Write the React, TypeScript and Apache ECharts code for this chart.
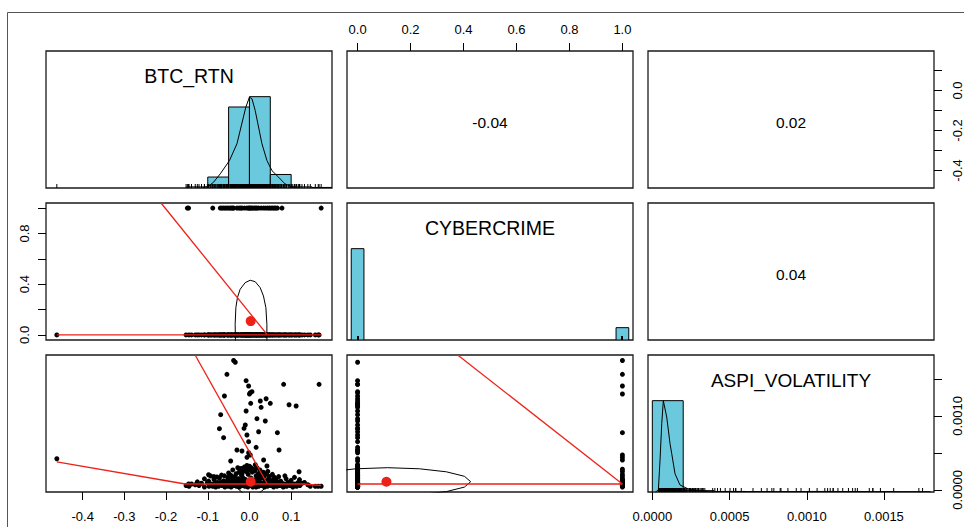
import React, { useEffect, useRef } from "react";
import * as echarts from "echarts";

// ---------- labels ----------
const varNames = ["BTC_RTN", "CYBERCRIME", "ASPI_VOLATILITY"];
const corrLabels = ["-0.04", "0.02", "0.04"]; // panels (1,2), (1,3), (2,3)

// ---------- axis ranges & ticks ----------
const btcRange = [-0.488, 0.198];
const cyberRange = [-0.04, 1.04];
const aspiRange = [-0.000028, 0.001824];
const histRange = [0, 1.5];

const btcTicks = [-0.4, -0.3, -0.2, -0.1, 0.0, 0.1];
const btcBottomLabels = [-0.4, -0.3, -0.2, -0.1, 0.0, 0.1];
const btcRightLabels = [-0.4, -0.2, 0.0];
const cyberTicks = [0, 0.2, 0.4, 0.6, 0.8, 1.0];
const cyberTopLabels = [0, 0.2, 0.4, 0.6, 0.8, 1.0];
const cyberLeftLabels = [0, 0.4, 0.8];
const aspiTicks = [0, 0.0005, 0.001, 0.0015];
const aspiBottomLabels = [0, 0.0005, 0.001, 0.0015];
const aspiRightLabels = [0, 0.001];

// ---------- histograms: [from, to, relative height] ----------
const btcHist = [
  [-0.15, -0.1, 0.012],
  [-0.1, -0.05, 0.12],
  [-0.05, 0, 0.887],
  [0, 0.05, 1.0],
  [0.05, 0.1, 0.148],
  [0.1, 0.15, 0.012],
  [0.15, 0.2, 0.006],
];
const cyberHist = [
  [-0.024, 0.024, 1.0],
  [0.976, 1.024, 0.135],
];
const aspiHist = [
  [0, 0.0002, 1.0],
  [0.0002, 0.0004, 0.015],
  [0.0004, 0.0006, 0.006],
  [0.0006, 0.0008, 0.004],
  [0.0008, 0.001, 0.004],
  [0.001, 0.0012, 0.006],
  [0.0012, 0.0014, 0.005],
  [0.0014, 0.0016, 0.003],
  [0.0016, 0.0018, 0.002],
];

// ---------- density curves (scaled to max 1) ----------
const btcDensity = [
  [-0.112, 0.004], [-0.099, 0.016], [-0.086, 0.064], [-0.07, 0.155], [-0.048, 0.3],
  [-0.03, 0.484], [-0.0087, 0.885], [0.0, 0.995], [0.006, 0.977], [0.0137, 0.85],
  [0.03, 0.484], [0.042, 0.3], [0.054, 0.19], [0.07, 0.118], [0.085, 0.046],
  [0.1, 0.016], [0.115, 0.004],
];
const aspiDensity = [
  [0.00002, 0.0], [0.000039, 0.02], [0.00005, 0.35], [0.000061, 0.75], [0.0000712, 1.0],
  [0.0000933, 0.82], [0.0001146, 0.53], [0.0001256, 0.42], [0.000147, 0.2], [0.000179, 0.077],
  [0.000233, 0.033], [0.0003, 0.01], [0.0004, 0.0],
];

// ---------- observations [BTC_RTN, ASPI_VOLATILITY] ----------
const cyber0Upper = [
  [-0.034, 0.001726], [0.167, 0.001428], [0.082, 0.001428], [-0.008, 0.001477], [0.006, 0.001328],
  [0.002, 0.001314], [-0.06, 0.00127], [0.026, 0.001202], [0.04, 0.001233], [0.05, 0.001171],
  [0.003, 0.001171], [0.028, 0.001117], [0.095, 0.001152], [0.112, 0.001135], [-0.008, 0.001067],
  [-0.069, 0.001017], [0.018, 0.000963], [0.038, 0.000932], [-0.01, 0.000878], [-0.072, 0.000828],
  [0.022, 0.000787], [-0.013, 0.000833], [-0.006, 0.000743], [-0.062, 0.000706], [-0.002, 0.000652],
  [0.016, 0.000576], [0.071, 0.00054], [-0.03, 0.00054], [-0.018, 0.000526], [-0.002, 0.000503],
  [-0.045, 0.000391], [-0.006, 0.00033], [0.014, 0.00034], [0.0, 0.00032], [0.042, 0.000324],
  [-0.093, 0.000188], [0.119, 0.000246], [-0.462, 0.000422],
];
const cyber0Dome = [
  [-0.078, 0.000175], [-0.06, 0.00019], [-0.045, 0.0002], [-0.032, 0.00022], [-0.025, 0.00024],
  [-0.016, 0.00026], [-0.009, 0.00025], [0.0, 0.00027], [0.007, 0.00024], [0.013, 0.00026],
  [0.021, 0.00022], [0.029, 0.00021], [0.036, 0.00019], [0.048, 0.00018], [0.06, 0.00017],
  [-0.098, 0.000205],
];
const cyber0Dome2 = [
  [-0.05, 0.00023], [-0.04, 0.00027], [-0.028, 0.0003], [-0.02, 0.00029], [-0.012, 0.00031],
  [-0.004, 0.00029], [0.004, 0.0003], [0.01, 0.00028], [0.018, 0.0003], [0.025, 0.00027],
  [0.033, 0.00024], [0.041, 0.00022], [-0.067, 0.0002], [0.055, 0.00021], [0.07, 0.00018],
  [0.085, 0.00019], [-0.085, 0.00018], [0.108, 0.00017], [-0.108, 0.00015], [0.12, 0.00014],
  [-0.125, 0.00011], [0.132, 0.0001], [0.14, 0.00007], [-0.13, 0.00007], [-0.036, 0.00018],
  [-0.019, 0.0002], [-0.003, 0.00021], [0.016, 0.00019], [0.032, 0.00017], [-0.052, 0.00017],
];
const cyber0Low = [
  [-0.152, 0.00006], [-0.145, 0.00005], [-0.121, 0.00006], [-0.108, 0.00004], [-0.097, 0.00005],
  [-0.089, 0.00006], [-0.081, 0.00004], [-0.074, 0.00005], [-0.066, 0.00006], [-0.059, 0.00004],
  [-0.051, 0.00005], [-0.044, 0.00004], [-0.037, 0.00006], [-0.031, 0.00005], [-0.024, 0.00004],
  [-0.017, 0.00006], [-0.011, 0.00005], [-0.004, 0.00004], [0.003, 0.00006], [0.009, 0.00005],
  [0.016, 0.00004], [0.022, 0.00005], [0.029, 0.00006], [0.036, 0.00004], [0.043, 0.00005],
  [0.051, 0.00006], [0.058, 0.00004], [0.066, 0.00005], [0.073, 0.00006], [0.081, 0.00004],
  [0.089, 0.00005], [0.097, 0.00006], [0.104, 0.00004], [0.113, 0.00005], [0.121, 0.00006],
  [0.146, 0.00005], [0.158, 0.00005], [0.165, 0.00005],
];
const cyber0Mid = [
  [-0.139, 0.00008], [-0.115, 0.00009], [-0.101, 0.0001], [-0.092, 0.00008], [-0.083, 0.00009],
  [-0.077, 0.0001], [-0.069, 0.00009], [-0.061, 0.00008], [-0.055, 0.0001], [-0.047, 0.00009],
  [-0.041, 0.00008], [-0.034, 0.0001], [-0.027, 0.00009], [-0.02, 0.00008], [-0.014, 0.0001],
  [-0.008, 0.00009], [-0.001, 0.00008], [0.006, 0.0001], [0.012, 0.00009], [0.019, 0.00008],
  [0.025, 0.0001], [0.032, 0.00009], [0.039, 0.00008], [0.047, 0.0001], [0.054, 0.00009],
  [0.062, 0.00008], [0.069, 0.0001], [0.077, 0.00009], [0.085, 0.00008], [0.093, 0.0001],
  [0.101, 0.00009], [0.109, 0.00008], [0.117, 0.0001], [0.126, 0.00009],
];
const cyber0High = [
  [-0.098, 0.00012], [-0.085, 0.00014], [-0.072, 0.00016], [-0.063, 0.00012], [-0.052, 0.00014],
  [-0.043, 0.00016], [-0.035, 0.00013], [-0.028, 0.00015], [-0.021, 0.00012], [-0.015, 0.00016],
  [-0.009, 0.00014], [-0.003, 0.00013], [0.004, 0.00016], [0.011, 0.00012], [0.017, 0.00015],
  [0.024, 0.00014], [0.031, 0.00016], [0.038, 0.00012], [0.046, 0.00015], [0.055, 0.00013],
  [0.064, 0.00014], [0.075, 0.00012], [0.088, 0.00015], [0.1, 0.00013],
];
const cyber1Upper = [
  [-0.038, 0.00175], [-0.054, 0.001563], [-0.002, 0.001405], [0.0, 0.001297],
  [0.067, 0.000774], [0.002, 0.000472], [-0.006, 0.000441], [0.034, 0.000405],
];
const cyber1Low = [
  [-0.149, 0.00006], [-0.146, 0.00008], [-0.088, 0.00005], [-0.07, 0.0001], [-0.062, 0.00012],
  [-0.046, 0.00007], [-0.04, 0.00009], [-0.025, 0.00015], [-0.018, 0.00021], [-0.012, 0.00028],
  [0.008, 0.00004], [0.015, 0.00011], [0.022, 0.00018], [0.044, 0.00025], [0.052, 0.00006],
  [0.06, 0.00013], [0.078, 0.00009], [0.172, 0.00005], [-0.066, 0.00008], [-0.058, 0.00011],
  [-0.05, 0.00006], [-0.043, 0.00012], [-0.03, 0.00007], [-0.021, 0.00009], [0.005, 0.00014],
  [0.012, 0.00007], [0.018, 0.00009], [0.028, 0.00006], [0.039, 0.00011], [0.048, 0.00007],
  [0.056, 0.00009], [0.063, 0.00012],
];

// ---------- smoothers, means, ellipses ----------
const btcCyberSmoothA = [[-0.462, 0.0], [0.172, 0.0]];
const btcCyberSmoothB = [[-0.212, 1.04], [0.042, 0.005]];
const btcAspiSmoothA = [[-0.462, 0.00038], [-0.154, 0.00008], [0.13, 0.00008], [0.172, 0.00006]];
const btcAspiSmoothB = [[-0.1303, 0.001824], [0.042, 0.00009]];
const cyberAspiSmoothA = [[0, 0.00008], [1, 0.00008]];
const cyberAspiSmoothB = [[0.378, 0.001824], [1, 0.00008]];

const btcMean = 0.003;
const cyberMean = 0.109;
const aspiMean = 0.00011;

const btcCyberEllipse = [
  [-0.0331, -0.087], [-0.0336, -0.034], [-0.0343, 0.084], [-0.0326, 0.215], [-0.0288, 0.294],
  [-0.0223, 0.36], [-0.0103, 0.412], [0.0017, 0.431], [0.0137, 0.42], [0.0257, 0.373],
  [0.0336, 0.307], [0.0394, 0.215], [0.0418, 0.084], [0.0418, -0.034], [0.0413, -0.087],
];
const btcAspiEllipse = [
  [0.0041, 0.0002965], [0.0233, 0.0002721], [0.0374, 0.0002045], [0.0425, 0.000114],
  [0.0374, 0.0000234], [0.0233, -0.0000442], [0.0041, -0.0000686], [-0.0151, -0.0000442],
  [-0.0293, 0.0000234], [-0.0343, 0.000114], [-0.0293, 0.0002045], [-0.0151, 0.0002721],
  [0.0041, 0.0002965],
];
const cyberAspiEllipse = [
  [0.4271, 0.0001113], [0.4033, 0.0001843], [0.3352, 0.0002451], [0.2336, 0.0002857],
  [0.1134, 0.0003005], [-0.0068, 0.0002857], [-0.1085, 0.0002451], [-0.1765, 0.0001843],
  [-0.2003, 0.0001113], [-0.1765, 0.0000382], [-0.1085, -0.0000226], [-0.0068, -0.0000632],
  [0.1134, -0.000078], [0.2336, -0.0000632], [0.3352, -0.0000226], [0.4033, 0.0000382],
  [0.4271, 0.0001113],
];

// ---------- build observation columns ----------
type Obs = { btc: number; cyber: number; aspi: number };
const obs: Obs[] = [
  ...[...cyber0Upper, ...cyber0Dome, ...cyber0Dome2, ...cyber0Low, ...cyber0Mid, ...cyber0High].map(
    ([b, a]) => ({ btc: b, cyber: 0, aspi: a })
  ),
  ...[...cyber1Upper, ...cyber1Low].map(([b, a]) => ({ btc: b, cyber: 1, aspi: a })),
];
const btc = obs.map((o) => o.btc);
const cyber = obs.map((o) => o.cyber);
const aspi = obs.map((o) => o.aspi);

// ---------- styling ----------
const FONT = '"Liberation Sans", Arial, Helvetica, sans-serif';
const HIST_FILL = "#6bc9dd";
const RED = "#ee2119";
const COLS = [46, 347, 648];
const ROWS = [51, 203, 355];
const PW = 286;
const PH = 137;

function buildOption() {
  const ranges = [btcRange, cyberRange, aspiRange];
  const grids: any[] = [];
  const xAxes: any[] = [];
  const yAxes: any[] = [];
  const hidden = (gridIndex: number, r: number[]) => ({
    type: "value",
    gridIndex,
    min: r[0],
    max: r[1],
    axisLine: { show: false, onZero: false },
    axisTick: { show: false },
    axisLabel: { show: false },
    splitLine: { show: false },
  });
  for (let r = 0; r < 3; r++) {
    for (let c = 0; c < 3; c++) {
      const g = r * 3 + c;
      grids.push({
        left: COLS[c],
        top: ROWS[r],
        width: PW,
        height: PH,
        show: true,
        backgroundColor: "transparent",
        borderColor: "#1a1a1a",
        borderWidth: 1.3,
        containLabel: false,
        outerBoundsMode: "none",
      });
      xAxes.push(hidden(g, ranges[c]));
      yAxes.push(hidden(g, r === c ? histRange : ranges[r]));
    }
  }
  const tick = (vals: number[]) => ({
    show: true,
    length: 8,
    inside: false,
    customValues: vals,
    lineStyle: { color: "#000", width: 1 },
  });
  const label = (vals: number[], digits: number, margin: number, rotate = 0) => ({
    show: true,
    customValues: vals,
    formatter: (v: number) => Number(v).toFixed(digits),
    margin,
    rotate,
    color: "#000",
    fontSize: 13,
    fontFamily: FONT,
    hideOverlap: false,
  });
  // top axis for CYBERCRIME (column 2)
  Object.assign(xAxes[1], {
    position: "top",
    axisTick: tick(cyberTicks),
    axisLabel: label(cyberTopLabels, 1, 15),
  });
  // right axis for BTC_RTN (row 1)
  Object.assign(yAxes[2], {
    position: "right",
    axisTick: tick(btcTicks),
    axisLabel: label(btcRightLabels, 1, 17, 90),
  });
  // left axis for CYBERCRIME (row 2)
  Object.assign(yAxes[3], {
    position: "left",
    axisTick: tick(cyberTicks),
    axisLabel: label(cyberLeftLabels, 1, 15, 90),
  });
  // bottom axis for BTC_RTN (column 1)
  Object.assign(xAxes[6], {
    position: "bottom",
    axisTick: tick(btcTicks),
    axisLabel: label(btcBottomLabels, 1, 18),
  });
  // bottom axis for ASPI_VOLATILITY (column 3)
  Object.assign(xAxes[8], {
    position: "bottom",
    axisTick: tick(aspiTicks),
    axisLabel: label(aspiBottomLabels, 4, 18),
  });
  // right axis for ASPI_VOLATILITY (row 3)
  yAxes.push({
    ...hidden(8, aspiRange),
    position: "right",
    axisTick: tick(aspiTicks),
    axisLabel: label(aspiRightLabels, 4, 17, 90),
  });

  const series: any[] = [];
  const histSeries = (g: number, bins: number[][]) => ({
    type: "custom",
    xAxisIndex: g,
    yAxisIndex: g,
    clip: true,
    silent: true,
    data: bins,
    encode: { x: [0, 1], y: 2 },
    renderItem: (_p: any, api: any) => {
      const p0 = api.coord([api.value(0), 0]);
      const p1 = api.coord([api.value(1), api.value(2)]);
      return {
        type: "rect",
        shape: { x: p0[0], y: p1[1], width: p1[0] - p0[0], height: p0[1] - p1[1] },
        style: { fill: HIST_FILL, stroke: "#000", lineWidth: 1 },
      };
    },
  });
  const rugSeries = (g: number, vals: number[]) => ({
    type: "custom",
    xAxisIndex: g,
    yAxisIndex: g,
    clip: true,
    silent: true,
    data: vals.map((v) => [v]),
    encode: { x: 0 },
    renderItem: (_p: any, api: any) => {
      const p = api.coord([api.value(0), 0]);
      return {
        type: "line",
        shape: { x1: p[0], y1: p[1], x2: p[0], y2: p[1] - 4 },
        style: { stroke: "#000", lineWidth: 1 },
      };
    },
  });
  const lineSeries = (g: number, yIdx: number, data: number[][], color: string, width: number) => ({
    type: "line",
    xAxisIndex: g,
    yAxisIndex: yIdx,
    data,
    showSymbol: false,
    symbol: "none",
    clip: true,
    silent: true,
    smooth: false,
    lineStyle: { color, width },
  });
  const scatterSeries = (g: number, data: number[][]) => ({
    type: "scatter",
    xAxisIndex: g,
    yAxisIndex: g,
    data,
    symbolSize: 5,
    silent: true,
    clip: true,
    itemStyle: { color: "#000", opacity: 1 },
  });
  const meanSeries = (g: number, x: number, y: number) => ({
    type: "scatter",
    xAxisIndex: g,
    yAxisIndex: g,
    data: [[x, y]],
    symbolSize: 10,
    silent: true,
    itemStyle: { color: RED, opacity: 1 },
    z: 5,
  });

  // diagonal panels
  series.push(histSeries(0, btcHist));
  series.push(lineSeries(0, 0, btcDensity, "#000", 1));
  series.push(rugSeries(0, btc));
  series.push(histSeries(4, cyberHist));
  series.push(rugSeries(4, cyber));
  series.push(histSeries(8, aspiHist));
  series.push(lineSeries(8, 8, aspiDensity, "#000", 1));
  series.push(rugSeries(8, aspi));

  // BTC vs CYBERCRIME
  series.push(scatterSeries(3, obs.map((o) => [o.btc, o.cyber])));
  series.push(lineSeries(3, 3, btcCyberEllipse, "#000", 1));
  series.push(lineSeries(3, 3, btcCyberSmoothA, RED, 1.3));
  series.push(lineSeries(3, 3, btcCyberSmoothB, RED, 1.3));
  series.push(meanSeries(3, btcMean, cyberMean));

  // BTC vs ASPI
  series.push(scatterSeries(6, obs.map((o) => [o.btc, o.aspi])));
  series.push(lineSeries(6, 6, btcAspiEllipse, "#000", 1));
  series.push(lineSeries(6, 6, btcAspiSmoothA, RED, 1.3));
  series.push(lineSeries(6, 6, btcAspiSmoothB, RED, 1.3));
  series.push(meanSeries(6, btcMean, aspiMean));

  // CYBERCRIME vs ASPI
  series.push(scatterSeries(7, obs.map((o) => [o.cyber, o.aspi])));
  series.push(lineSeries(7, 7, cyberAspiEllipse, "#000", 1));
  series.push(lineSeries(7, 7, cyberAspiSmoothA, RED, 1.3));
  series.push(lineSeries(7, 7, cyberAspiSmoothB, RED, 1.3));
  series.push(meanSeries(7, cyberMean, aspiMean));

  const text = (str: string, x: number, y: number, size: number) => ({
    type: "text",
    x,
    y,
    silent: true,
    z: 10,
    style: {
      text: str,
      fill: "#000",
      font: `${size}px ${FONT}`,
      fontSize: size,
      fontFamily: FONT,
      align: "center",
      verticalAlign: "middle",
      textAlign: "center",
      textVerticalAlign: "middle",
    },
  });

  const graphic: any[] = [
    {
      type: "rect",
      silent: true,
      z: -10,
      shape: { x: 7.5, y: 12.5, width: 1000, height: 600 },
      style: { fill: "none", stroke: "#555", lineWidth: 1 },
    },
    text(varNames[0], COLS[0] + PW / 2, ROWS[0] + 24.5, 19.5),
    text(varNames[1], COLS[1] + PW / 2, ROWS[1] + 24.5, 19.5),
    text(varNames[2], COLS[2] + PW / 2, ROWS[2] + 25, 19),
    text(corrLabels[0], COLS[1] + PW / 2, ROWS[0] + PH / 2 + 3, 15.5),
    text(corrLabels[1], COLS[2] + PW / 2, ROWS[0] + PH / 2 + 3, 15.5),
    text(corrLabels[2], COLS[2] + PW / 2, ROWS[1] + PH / 2 + 3, 15.5),
  ];

  return {
    animation: false,
    backgroundColor: "#fff",
    grid: grids,
    xAxis: xAxes,
    yAxis: yAxes,
    series,
    graphic,
  };
}

export default function App() {
  const ref = useRef<HTMLDivElement>(null);
  useEffect(() => {
    if (!ref.current) return;
    const chart = echarts.init(ref.current, null, { renderer: "svg" });
    chart.setOption(buildOption() as any);
    return () => chart.dispose();
  }, []);
  return (
    <div
      ref={ref}
      style={{ position: "fixed", left: 0, top: 0, width: 964, height: 527, background: "#fff" }}
    />
  );
}
